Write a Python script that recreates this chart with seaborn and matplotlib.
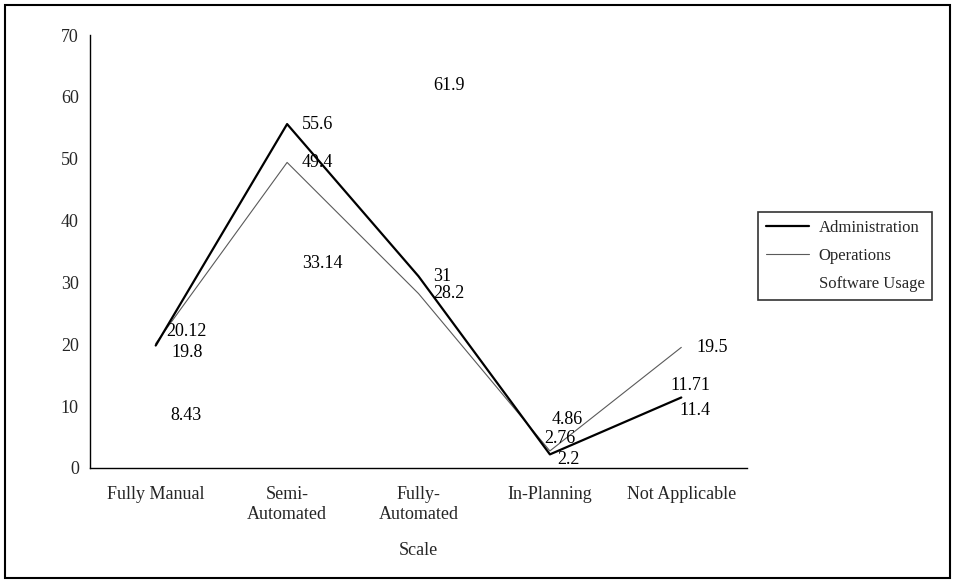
import numpy as np
import pandas as pd
import matplotlib
matplotlib.use("Agg")
import matplotlib.pyplot as plt
import seaborn as sns
from matplotlib.patches import Rectangle

# Survey data: share of respondents per automation scale
categories = ["Fully Manual", "Semi-\nAutomated", "Fully-\nAutomated", "In-Planning", "Not Applicable"]
administration = [19.8, 55.6, 31, 2.2, 11.4]
operations = [20.12, 49.4, 28.2, 2.76, 19.5]
software_usage = [8.43, 33.14, 61.9, 4.86, 11.71]
y_ticks = [0, 10, 20, 30, 40, 50, 60, 70]

sns.set_style("white")
plt.rcParams["font.family"] = ["Liberation Serif", "DejaVu Serif"]
FS = 13

W, H = 955, 583
fig = plt.figure(figsize=(W / 100, H / 100), dpi=100)
ax = fig.add_axes([90 / W, 1 - 468 / H, (747 - 90) / W, (468 - 35) / H])

x = np.arange(len(categories))
df = pd.DataFrame({
    "pos": np.tile(x, 3),
    "value": administration + operations + software_usage,
    "series": ["Administration"] * 5 + ["Operations"] * 5 + ["Software Usage"] * 5,
})

styles = {
    "Software Usage": dict(color="white", linewidth=1.0, zorder=1),
    "Administration": dict(color="black", linewidth=1.6, zorder=3),
    "Operations": dict(color="#5a5a5a", linewidth=0.8, zorder=2),
}
for name in ["Administration", "Operations", "Software Usage"]:
    sub = df[df["series"] == name]
    sns.lineplot(data=sub, x="pos", y="value", ax=ax, label=name, **styles[name])

# Value labels sit to the right of each point; a few are nudged (pixels) to avoid overlaps
nudges = {
    ("Administration", 0): (16, -7), ("Operations", 0): (11, 12),
    ("Operations", 3): (-6, 12), ("Administration", 3): (7, -5),
    ("Software Usage", 3): (2, 18),
    ("Software Usage", 4): (-11, 10), ("Administration", 4): (-2, -13),
}
for name, vals in [("Administration", administration), ("Operations", operations),
                   ("Software Usage", software_usage)]:
    for i, v in enumerate(vals):
        dx, dy = nudges.get((name, i), (15, 0))
        ax.annotate(f"{v:g}", (x[i], v), xytext=(dx * 0.72, dy * 0.72),
                    textcoords="offset points", ha="left", va="center",
                    fontsize=FS, color="black", zorder=5)

ax.set_xlim(-0.5, len(categories) - 0.5)
ax.set_ylim(0, 70)
ax.set_yticks(y_ticks)
ax.set_xticks(x, categories)
ax.set_xticks(np.arange(-0.5, len(categories), 1), minor=True)
ax.tick_params(axis="x", which="major", length=0, pad=13, labelsize=FS)
ax.tick_params(axis="x", which="minor", length=5, width=1, color="black", direction="out")
ax.tick_params(axis="y", length=5, width=1, color="black", direction="out", pad=3, labelsize=FS)
ax.set_xlabel("Scale", fontsize=FS, labelpad=14)
ax.set_ylabel("")
for side in ["top", "right"]:
    ax.spines[side].set_visible(False)
for side in ["left", "bottom"]:
    ax.spines[side].set_color("black")
    ax.spines[side].set_linewidth(1.0)

leg = ax.legend(loc="upper left", bbox_to_anchor=(758 / W, 1 - 212 / H),
                bbox_transform=fig.transFigure, borderaxespad=0, frameon=True,
                fancybox=False, edgecolor="black", fontsize=12, handlelength=2.6,
                handletextpad=0.6, labelspacing=0.75, borderpad=0.45)
leg.get_frame().set_linewidth(1.2)

# Outer border around the whole figure
fig.patches.append(Rectangle((5 / W, 5 / H), (W - 10) / W, (H - 10) / H,
                             transform=fig.transFigure, fill=False,
                             edgecolor="black", linewidth=1.5))

fig.savefig("out.png", dpi=100, facecolor="white")
